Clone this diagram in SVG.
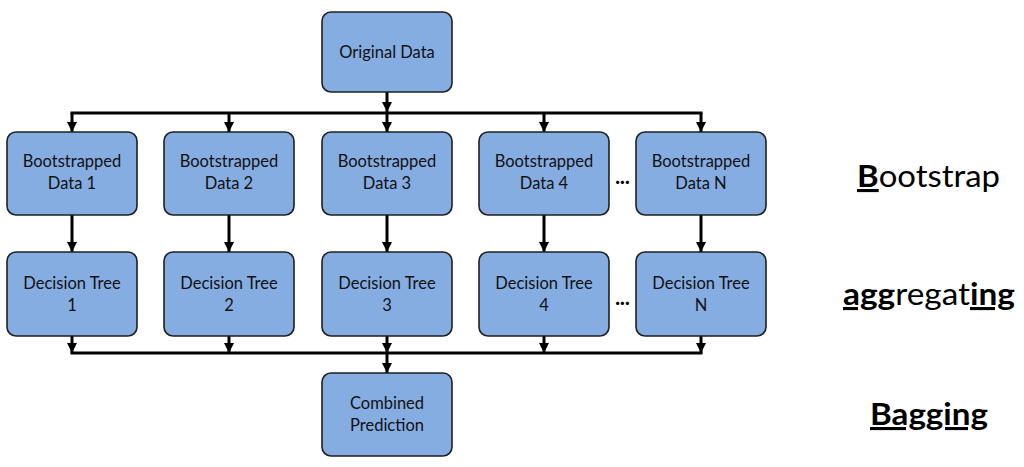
<svg xmlns="http://www.w3.org/2000/svg" width="1024" height="467" viewBox="0 0 1024 467">
<style>
.box{fill:#85ADE2;stroke:#1f1f1f;stroke-width:1.6}
.lbl{font-family:Lato,"Open Sans","Liberation Sans",sans-serif;font-size:16.5px;fill:#111;text-anchor:middle}
.ln{stroke:#000;stroke-width:3;fill:none}
.dots{font-family:Lato,"Liberation Sans",sans-serif;font-size:20px;font-weight:900;fill:#000;text-anchor:middle}
.big{font-family:Lato,"Open Sans","Liberation Sans",sans-serif;font-size:31px;fill:#000}
.b{font-weight:bold;text-decoration:underline;text-decoration-skip-ink:none;text-decoration-thickness:3px}
</style>
<defs>
<marker id="ah" viewBox="0 0 10 10" refX="10" refY="5" markerWidth="11" markerHeight="10" markerUnits="userSpaceOnUse" orient="auto">
<path d="M0,0 L10,5 L0,10 z" fill="#000"/>
</marker>
</defs>
<rect width="1024" height="467" fill="#fff"/>
<g id="connectors">
<line class="ln" x1="387" y1="92" x2="387" y2="112" marker-end="url(#ah)"/>
<line class="ln" x1="70.5" y1="113" x2="702.5" y2="113"/>
<line class="ln" x1="72" y1="113" x2="72" y2="132" marker-end="url(#ah)"/>
<line class="ln" x1="229" y1="113" x2="229" y2="132" marker-end="url(#ah)"/>
<line class="ln" x1="387" y1="113" x2="387" y2="132" marker-end="url(#ah)"/>
<line class="ln" x1="544" y1="113" x2="544" y2="132" marker-end="url(#ah)"/>
<line class="ln" x1="701" y1="113" x2="701" y2="132" marker-end="url(#ah)"/>
<line class="ln" x1="72" y1="215" x2="72" y2="252" marker-end="url(#ah)"/>
<line class="ln" x1="229" y1="215" x2="229" y2="252" marker-end="url(#ah)"/>
<line class="ln" x1="387" y1="215" x2="387" y2="252" marker-end="url(#ah)"/>
<line class="ln" x1="544" y1="215" x2="544" y2="252" marker-end="url(#ah)"/>
<line class="ln" x1="701" y1="215" x2="701" y2="252" marker-end="url(#ah)"/>
<line class="ln" x1="72" y1="336" x2="72" y2="353" marker-end="url(#ah)"/>
<line class="ln" x1="229" y1="336" x2="229" y2="353" marker-end="url(#ah)"/>
<line class="ln" x1="387" y1="336" x2="387" y2="353" marker-end="url(#ah)"/>
<line class="ln" x1="544" y1="336" x2="544" y2="353" marker-end="url(#ah)"/>
<line class="ln" x1="701" y1="336" x2="701" y2="353" marker-end="url(#ah)"/>
<line class="ln" x1="70.5" y1="353" x2="702.5" y2="353"/>
<line class="ln" x1="387" y1="353" x2="387" y2="373" marker-end="url(#ah)"/>
</g>
<g id="original">
<rect class="box" x="322" y="12" width="130" height="80" rx="9"/>
<text class="lbl" x="387" y="58">Original Data</text>
</g>
<g id="boot1"><rect class="box" x="7" y="132" width="130" height="83" rx="9"/>
<text class="lbl" x="72" y="167">Bootstrapped</text><text class="lbl" x="72" y="189">Data 1</text></g>
<g id="boot2"><rect class="box" x="164" y="132" width="130" height="83" rx="9"/>
<text class="lbl" x="229" y="167">Bootstrapped</text><text class="lbl" x="229" y="189">Data 2</text></g>
<g id="boot3"><rect class="box" x="322" y="132" width="130" height="83" rx="9"/>
<text class="lbl" x="387" y="167">Bootstrapped</text><text class="lbl" x="387" y="189">Data 3</text></g>
<g id="boot4"><rect class="box" x="479" y="132" width="130" height="83" rx="9"/>
<text class="lbl" x="544" y="167">Bootstrapped</text><text class="lbl" x="544" y="189">Data 4</text></g>
<g id="bootN"><rect class="box" x="636" y="132" width="130" height="83" rx="9"/>
<text class="lbl" x="701" y="167">Bootstrapped</text><text class="lbl" x="701" y="189">Data N</text></g>
<g id="tree1"><rect class="box" x="7" y="252" width="130" height="84" rx="9"/>
<text class="lbl" x="72" y="289">Decision Tree</text><text class="lbl" x="72" y="311">1</text></g>
<g id="tree2"><rect class="box" x="164" y="252" width="130" height="84" rx="9"/>
<text class="lbl" x="229" y="289">Decision Tree</text><text class="lbl" x="229" y="311">2</text></g>
<g id="tree3"><rect class="box" x="322" y="252" width="130" height="84" rx="9"/>
<text class="lbl" x="387" y="289">Decision Tree</text><text class="lbl" x="387" y="311">3</text></g>
<g id="tree4"><rect class="box" x="479" y="252" width="130" height="84" rx="9"/>
<text class="lbl" x="544" y="289">Decision Tree</text><text class="lbl" x="544" y="311">4</text></g>
<g id="treeN"><rect class="box" x="636" y="252" width="130" height="84" rx="9"/>
<text class="lbl" x="701" y="289">Decision Tree</text><text class="lbl" x="701" y="311">N</text></g>
<g id="combined"><rect class="box" x="322" y="373" width="130" height="83" rx="9"/>
<text class="lbl" x="387" y="409">Combined</text><text class="lbl" x="387" y="431">Prediction</text></g>
<text class="dots" x="622.5" y="184">...</text>
<text class="dots" x="622.5" y="305">...</text>
<text class="big" x="857" y="187" textLength="143" lengthAdjust="spacingAndGlyphs"><tspan class="b">B</tspan>ootstrap</text>
<text class="big" x="843" y="305" textLength="172" lengthAdjust="spacingAndGlyphs"><tspan class="b">agg</tspan>regat<tspan class="b">ing</tspan></text>
<text class="big" x="870" y="425" textLength="118" lengthAdjust="spacingAndGlyphs"><tspan class="b">Bagging</tspan></text>
</svg>
